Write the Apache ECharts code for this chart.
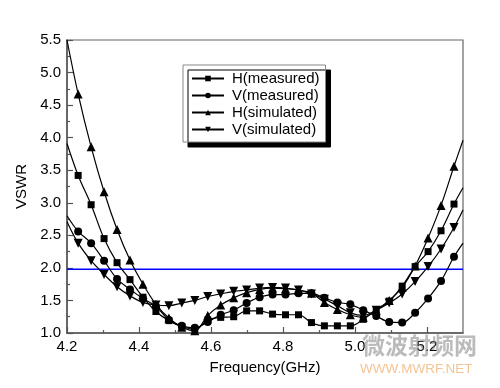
<!DOCTYPE html>
<html><head><meta charset="utf-8">
<script src="https://cdn.jsdelivr.net/npm/echarts@6/dist/echarts.min.js"></script>
<style>html,body{margin:0;padding:0;background:#fff}#c{width:500px;height:388px}</style>
</head><body><div id="c"></div>
<script>
// ---- data ----
const xMin = 4.2, xMax = 5.3;
const freq = [4.231,4.267,4.303,4.339,4.375,4.411,4.447,4.483,4.519,4.555,4.591,4.627,4.663,4.699,4.735,4.771,4.807,4.843,4.879,4.915,4.951,4.987,5.023,5.059,5.095,5.131,5.167,5.203,5.239,5.275];
const hMeasured  = [3.42,2.97,2.45,2.08,1.82,1.55,1.33,1.19,1.10,1.06,1.20,1.24,1.25,1.34,1.34,1.29,1.28,1.28,1.16,1.11,1.11,1.11,1.21,1.36,1.49,1.72,2.02,2.25,2.57,2.98];
const vMeasured  = [2.56,2.38,2.11,1.83,1.67,1.53,1.41,1.20,1.11,1.08,1.17,1.28,1.35,1.46,1.55,1.59,1.59,1.61,1.61,1.54,1.47,1.44,1.35,1.26,1.17,1.16,1.31,1.53,1.80,2.17];
const hSimulated = [4.67,3.86,3.17,2.59,2.12,1.75,1.44,1.23,1.09,1.035,1.27,1.43,1.54,1.62,1.67,1.69,1.68,1.66,1.61,1.47,1.36,1.28,1.24,1.35,1.50,1.70,2.03,2.46,2.96,3.56];
const vSimulated = [2.38,2.11,1.90,1.71,1.57,1.47,1.43,1.42,1.46,1.50,1.56,1.60,1.64,1.66,1.69,1.70,1.69,1.66,1.60,1.52,1.42,1.31,1.27,1.35,1.46,1.60,1.79,2.02,2.29,2.62];
// curve values at the band edges (4.2 and 5.3 GHz), drawn without markers
const hMeasuredEnds  = [3.91, 3.23];
const vMeasuredEnds  = [2.80, 2.38];
const hSimulatedEnds = [5.50, 3.96];
const vSimulatedEnds = [2.71, 2.89];
const refLevel = 1.98;
const xMajorTicks = [4.2,4.4,4.6,4.8,5.0,5.2];
const xMinorTicks = [4.3,4.5,4.7,4.9,5.1];
const seriesNames = ['H(measured)','V(measured)','H(simulated)','V(simulated)'];

function build(vals, ends){
  const d = [{value:[xMin, ends[0]], symbol:'none'}];
  freq.forEach((f,i)=>d.push([f, vals[i]]));
  d.push({value:[xMax, ends[1]], symbol:'none'});
  return d;
}
const FONT = 'Liberation Sans, Arial, sans-serif';
const chart = echarts.init(document.getElementById('c'), null, {renderer:'canvas'});
const lineBase = {type:'line', smooth:0.35, xAxisIndex:0, yAxisIndex:0,
  lineStyle:{color:'#000', width:1.2}, itemStyle:{color:'#000'}, showAllSymbol:true, z:3};
chart.setOption({
  animation:false,
  grid:{left:67, top:40, right:37, bottom:55, show:true, borderColor:'#666', borderWidth:1.2, backgroundColor:'transparent'},
  legend:{
    data:seriesNames, orient:'vertical', left:183, top:65,
    backgroundColor:'#fff', borderColor:'#888', borderWidth:1,
    shadowColor:'#000', shadowBlur:0, shadowOffsetX:5, shadowOffsetY:5,
    padding:[6,6,5,8], itemGap:2, itemWidth:32, itemHeight:7,
    textStyle:{fontSize:15, color:'#000', fontFamily:FONT, lineHeight:15, padding:[0,0,0,3]}
  },
  xAxis:[{
    type:'value', min:xMin, max:xMax, position:'bottom',
    name:'Frequency(GHz)', nameLocation:'middle', nameGap:27,
    nameTextStyle:{fontSize:15, color:'#000', fontFamily:FONT},
    axisLine:{lineStyle:{color:'#555', width:1.5}},
    axisTick:{inside:true, length:6, customValues:xMajorTicks, lineStyle:{color:'#555', width:1.2}},
    axisLabel:{customValues:xMajorTicks, formatter:v=>Number(v).toFixed(1), fontSize:15, color:'#000', fontFamily:FONT, margin:6},
    splitLine:{show:false}
  },{
    type:'value', min:xMin, max:xMax, position:'bottom', offset:0,
    axisLine:{show:false},
    axisTick:{inside:true, length:3, customValues:xMinorTicks, lineStyle:{color:'#555', width:1.2}},
    axisLabel:{show:false}, splitLine:{show:false}
  }],
  yAxis:{
    type:'value', min:1.0, max:5.5, interval:0.5,
    name:'VSWR', nameLocation:'middle', nameGap:37,
    nameTextStyle:{fontSize:15, color:'#000', fontFamily:FONT},
    axisLine:{lineStyle:{color:'#555', width:1.5}},
    axisTick:{inside:true, length:6, lineStyle:{color:'#555', width:1.2}},
    minorTick:{show:true, splitNumber:2, length:3, lineStyle:{color:'#555', width:1.2}},
    axisLabel:{formatter:v=>v.toFixed(1), fontSize:15, color:'#000', fontFamily:FONT, margin:6},
    splitLine:{show:false}
  },
  series:[
    Object.assign({}, lineBase, {name:seriesNames[0], data:build(hMeasured,hMeasuredEnds), symbol:'rect', symbolSize:7}),
    Object.assign({}, lineBase, {name:seriesNames[1], data:build(vMeasured,vMeasuredEnds), symbol:'circle', symbolSize:8}),
    Object.assign({}, lineBase, {name:seriesNames[2], data:build(hSimulated,hSimulatedEnds), symbol:'triangle', symbolSize:9}),
    Object.assign({}, lineBase, {name:seriesNames[3], data:build(vSimulated,vSimulatedEnds), symbol:'triangle', symbolRotate:180, symbolSize:9}),
    {type:'line', name:'ref', data:[[xMin,refLevel],[xMax,refLevel]], symbol:'none',
     lineStyle:{color:'#0000ff', width:1.5}, z:2, silent:true}
  ],
  graphic:[
    {type:'text', left:362, top:334, z:100, style:{text:'微波射频网', fontSize:23, fontWeight:'bold', fill:'rgba(120,120,120,0.5)', fontFamily:'Noto Sans CJK SC'}},
    {type:'text', left:360, top:362, z:100, style:{text:'WWW.MWRF.NET', fontSize:13.5, fill:'rgba(240,170,100,0.7)', fontFamily:FONT}}
  ]
});
</script></body></html>
